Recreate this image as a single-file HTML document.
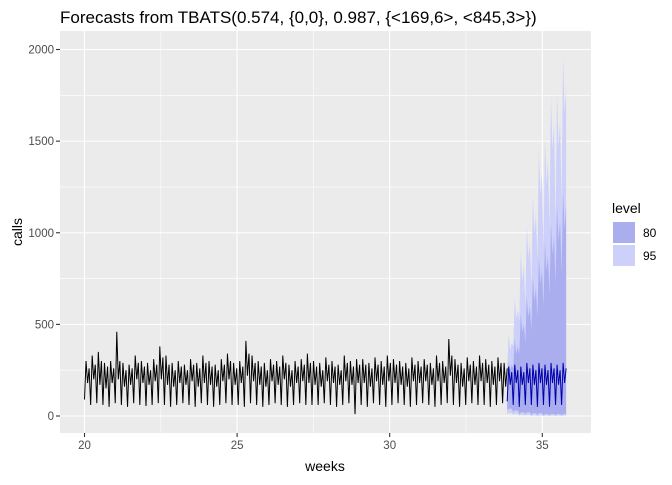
<!DOCTYPE html>
<html><head><meta charset="utf-8"><style>
body{margin:0;background:#fff;font-family:"Liberation Sans",sans-serif;}
</style></head><body>
<svg id="c" width="672" height="480" xmlns="http://www.w3.org/2000/svg">
<rect x="0" y="0" width="672" height="480" fill="#fff"/>
<rect x="60" y="31" width="531" height="402" fill="#ebebeb"/>
<g id="grid"></g>
<g id="bands"></g>
<g id="lines"></g>
<g id="axes"></g>
<text x="60" y="23" font-size="17" fill="#000">Forecasts from TBATS(0.574, {0,0}, 0.987, {&lt;169,6&gt;, &lt;845,3&gt;})</text>
<text x="325" y="471" font-size="14" text-anchor="middle" fill="#000">weeks</text>
<text transform="translate(22,232) rotate(-90)" font-size="14" text-anchor="middle" fill="#000">calls</text>
<g>
<text x="612" y="213" font-size="14">level</text>
<rect x="613" y="222" width="22" height="21" fill="#aaaeef"/>
<rect x="613" y="245" width="22" height="21" fill="#cdd0f8"/>
<text x="643" y="237" font-size="12">80</text>
<text x="643" y="260" font-size="12">95</text>
</g>
</svg>
<script>
const xTicks=[20,25,30,35];
const yTicks=[0,500,1000,1500,2000];
const histStart=20, histEnd=33.85;
const calls=[
90,300,180,260, 60,330,200,280, 70,350,170,300, 60,290,150,270, 50,300,180,260,
70,460,200,300, 60,290,160,250, 50,280,170,260, 70,330,200,290, 60,300,180,270,
55,290,170,250, 60,310,190,280, 70,380,200,320, 60,330,170,280, 50,290,160,250,
60,300,180,270, 70,280,170,250, 60,310,190,280, 50,290,160,260, 70,330,180,290,
60,300,170,270, 50,280,160,250, 60,310,190,280, 70,340,200,300, 60,290,170,260,
60,300,180,270, 50,410,220,340, 70,330,190,290, 60,300,170,270, 50,290,160,250,
60,310,190,280, 70,300,170,270, 60,330,200,290, 50,280,160,250, 60,300,180,270,
70,310,190,280, 60,340,180,290, 60,300,170,270, 60,290,160,250, 70,320,190,280,
60,300,180,270, 50,280,170,250, 60,330,190,290, 70,300,170,270, 10,310,180,280,
60,310,180,280, 50,290,160,260, 70,320,190,280, 60,300,170,270, 50,330,190,290,
60,310,180,280, 70,300,170,270, 60,290,160,260, 50,320,190,280, 60,300,180,270,
70,310,190,280, 60,290,170,260, 50,330,190,290, 60,300,180,270, 70,420,220,330,
60,310,180,280, 50,290,160,260, 60,320,190,280, 70,300,170,270, 60,330,190,290,
60,310,180,280, 50,300,170,270, 60,320,190,290, 70,290,160,260
];
const fcStart=33.85, fcStep=0.0495;
const fcMean=[
80,270,170,240, 60,280,180,250, 50,270,170,240, 60,290,180,260, 60,280,170,250,
50,290,180,260, 60,280,170,250, 50,290,180,260, 60,280,170,250, 60,290,180,260
];
const fcUpper80=[
180,300,250,280, 260,420,340,380, 340,560,460,500, 400,650,540,600, 470,760,630,700,
540,870,720,800, 600,950,790,880, 660,1050,880,980, 720,1150,950,1070, 780,1230,1020,1150
];
const fcUpper95=[
260,450,360,400, 380,650,530,580, 520,900,740,820, 600,1040,860,950, 700,1200,1000,1100,
850,1450,1200,1330, 900,1520,1260,1400, 1020,1750,1450,1600, 1050,1760,1470,1620, 1150,1960,1650,1800
];
const fcLower80=[
30,40,40,40, 20,30,30,30, 10,20,20,20, 10,20,20,20, 5,15,15,15,
5,15,15,15, 5,10,10,10, 5,10,10,10, 5,10,10,10, 5,10,10,10
];
const fcLower95=[
10,15,15,15, 5,10,10,10, 2,5,5,5, 2,5,5,5, 0,3,3,3,
0,3,3,3, 0,2,2,2, 0,2,2,2, 0,2,2,2, 0,2,2,2
];
const NS='http://www.w3.org/2000/svg';
function X(w){return 84.5+(w-20)*30.52;}
function Y(v){return 416-v*0.18325;}
function mk(tag,attrs,parent){const e=document.createElementNS(NS,tag);for(const k in attrs)e.setAttribute(k,attrs[k]);parent.appendChild(e);return e;}
const grid=document.getElementById('grid'),bands=document.getElementById('bands'),lines=document.getElementById('lines'),axes=document.getElementById('axes');
for(let i=0;i<yTicks.length-1;i++){const v=(yTicks[i]+yTicks[i+1])/2;
 const l=mk('line',{x1:60,x2:591,y1:Y(v),y2:Y(v),stroke:'#fff','stroke-width':0.55},grid);
 
 }
for(let i=0;i<xTicks.length-1;i++){const w=(xTicks[i]+xTicks[i+1])/2;
 const l=mk('line',{x1:X(w),x2:X(w),y1:31,y2:433,stroke:'#fff','stroke-width':0.55},grid);
 
 }
yTicks.forEach(v=>{
 const l=mk('line',{x1:60,x2:591,y1:Y(v),y2:Y(v),stroke:'#fff','stroke-width':1.1},grid);
 
 
 const t=mk('line',{x1:56,x2:60,y1:Y(v),y2:Y(v),stroke:'#333','stroke-width':1.1},axes);
 
 
 const tx=mk('text',{x:54,y:Y(v)+4,'font-size':11.5,fill:'#4d4d4d','text-anchor':'end'},axes);
 tx.textContent=v;
 
 
});
xTicks.forEach(w=>{
 const l=mk('line',{x1:X(w),x2:X(w),y1:31,y2:433,stroke:'#fff','stroke-width':1.1},grid);
 
 
 const t=mk('line',{x1:X(w),x2:X(w),y1:433,y2:437,stroke:'#333','stroke-width':1.1},axes);
 
 
 const tx=mk('text',{x:X(w),y:449,'font-size':11.5,fill:'#4d4d4d','text-anchor':'middle'},axes);
 tx.textContent=w;
 
 
});
function band(up,lo,fill,name){
 let pts=[];
 up.forEach((v,i)=>pts.push(X(fcStart+i*fcStep)+','+Y(v)));
 for(let i=lo.length-1;i>=0;i--)pts.push(X(fcStart+i*fcStep)+','+Y(lo[i]));
 const p=mk('polygon',{points:pts.join(' '),fill:fill},bands);
 
 
}
band(fcUpper95,fcLower95,'#cdd0f8','band-95');
band(fcUpper80,fcLower80,'#aaaeef','band-80');
function line(arr,start,step,color,name){
 const pts=arr.map((v,i)=>X(start+i*step)+','+Y(v)).join(' ');
 const p=mk('polyline',{points:pts,fill:'none',stroke:color,'stroke-width':1},lines);
 
 
}
line(calls,histStart,(histEnd-histStart)/(calls.length-1),'#000','history-line');
line(fcMean,fcStart,fcStep,'#0000aa','forecast-mean-line');
</script>
</body></html>
